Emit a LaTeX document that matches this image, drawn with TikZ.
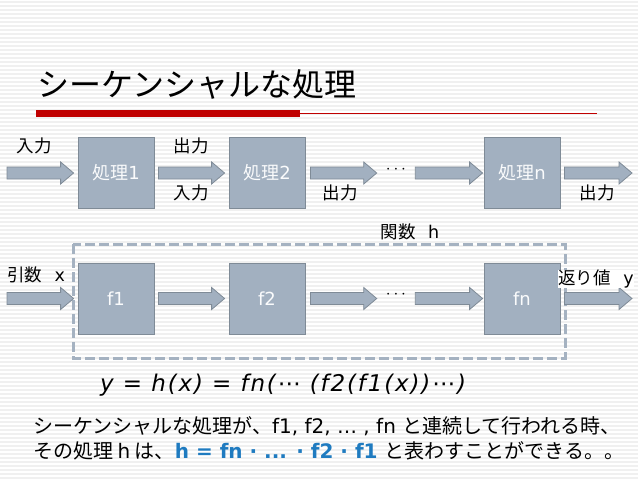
\documentclass[tikz,border=0pt]{standalone}
\usepackage{fontspec}
\setmainfont{Noto Sans CJK JP}
\newfontfamily\latf{DejaVu Sans}
\newfontfamily\eqf[LetterSpace=8]{DejaVu Sans}
\usetikzlibrary{positioning, calc}

\definecolor{boxfill}{HTML}{A2B0C0}
\definecolor{boxline}{HTML}{7F8B97}
\definecolor{dashc}{HTML}{A5B2C1}
\definecolor{titlered}{HTML}{C00000}
\definecolor{hblue}{HTML}{1F7BC0}

% block arrow between two points (same height)
\newcommand{\barrow}[2]{%
  \path let \p1=(#1), \p2=(#2) in
    [fill=boxfill, draw=boxline, line width=0.8pt]
    (\x1,\y1+6pt) -- (\x2-13pt,\y1+6pt) -- (\x2-13pt,\y1+11pt) -- (\x2,\y1)
    -- (\x2-13pt,\y1-11pt) -- (\x2-13pt,\y1-6pt) -- (\x1,\y1-6pt) -- cycle;}

\begin{document}
\begin{tikzpicture}[
    x=1pt, y=-1pt,
    proc/.style={rectangle, draw=boxline, fill=boxfill, line width=0.8pt,
                 minimum width=76pt, minimum height=71pt,
                 text=white!95!boxfill, font=\fontsize{18}{20}\selectfont},
    lbl/.style={font=\fontsize{17.5}{19}\selectfont, inner sep=0pt},
    dotn/.style={font=\latf\fontsize{16}{18}\selectfont, inner sep=1pt},
    stripe/.style={line width=1.6pt, draw=black!6},
]

\useasboundingbox (0,0) rectangle (638,479);
\fill[white] (0,0) rectangle (638,479);
\foreach \yy in {2,6,...,478}
    \draw[stripe] (0,\yy) -- (638,\yy);

% --- title ---
\node (title) [anchor=west, inner sep=0pt, font=\fontsize{32}{34}\selectfont]
    at (37,85) {シーケンシャルな処理};
\fill[titlered] (36,110) rectangle (300,117);
\draw[titlered, line width=1pt] (300,113.5) -- (597,113.5);

% ============================================================
%  top row: 処理1 ... 処理n
% ============================================================
\node (p1) [proc] at (116,173) {処理{\latf 1}};
\node (p2) [proc] at (267,173) {処理{\latf 2}};
\node (dots1) [dotn] at (396,170) {$\cdots$};
\node (pn) [proc] at (522,173) {処理{\latf n}};

\coordinate (in1)  at (7,173);
\coordinate (out1) at (632,173);

\barrow{in1}{$(p1.west)+(-4,0)$}
\barrow{$(p1.east)+(4,0)$}{$(p2.west)+(-4,0)$}
\barrow{$(p2.east)+(5,0)$}{$(dots1.west)+(-8,3)$}
\barrow{$(dots1.east)+(8,3)$}{$(pn.west)+(-1,0)$}
\barrow{$(pn.east)+(4,0)$}{out1}

\node (lin1)  [lbl] at (34,146)  {入力};
\node (lout1) [lbl] at (191,146) {出力};
\node (lin2)  [lbl] at (191,193) {入力};
\node (lout2) [lbl] at (340,193) {出力};
\node (loutn) [lbl] at (597,193) {出力};

% ============================================================
%  bottom row: 関数 h = f1 ... fn
% ============================================================
\draw[dashc, line width=3pt, dash pattern=on 10pt off 4pt]
    (73,244) rectangle (565,358);
\node (hlbl) [lbl] at (410,232) {関数 {\latf\, h}};

\node (f1) [proc] at (116,298.5) {\latf f1};
\node (f2) [proc] at (267,298.5) {\latf f2};
\node (dots2) [dotn] at (396,295) {$\cdots$};
\node (fn) [proc] at (522,298.5) {\latf fn};

\coordinate (inx)  at (7,298.5);
\coordinate (outy) at (632,298.5);

\barrow{inx}{$(f1.west)+(-4,0)$}
\barrow{$(f1.east)+(4,0)$}{$(f2.west)+(-4,0)$}
\barrow{$(f2.east)+(5,0)$}{$(dots2.west)+(-8,3.5)$}
\barrow{$(dots2.east)+(8,3.5)$}{$(fn.west)+(-1,0)$}
\barrow{$(fn.east)+(4,0)$}{outy}

\node (lx) [lbl] at (36,275)  {引数 {\latf\, x}};
\node (ly) [lbl, fill=white] at (596,279) {返り値 {\latf\, y}};

% --- formula + explanation ---
\node (eq) [anchor=west, inner sep=0pt, font=\eqf\itshape\fontsize{23}{25}\selectfont]
    at (100,385) {y = h(x) = fn(⋯ (f2(f1(x))⋯)};

\node (txt1) [anchor=west, inner sep=0pt, font=\fontsize{20}{22}\selectfont]
    at (33,426) {シーケンシャルな処理が、{\latf f1, f2, … , fn }と連続して行われる時、};
\node (txt2) [anchor=west, inner sep=0pt, font=\fontsize{20}{22}\selectfont]
    at (33,451) {その処理 {\latf h} は、{\latf\bfseries\color{hblue}h = fn · ... · f2 · f1 }と表わすことができる。。};

\end{tikzpicture}
\end{document}
